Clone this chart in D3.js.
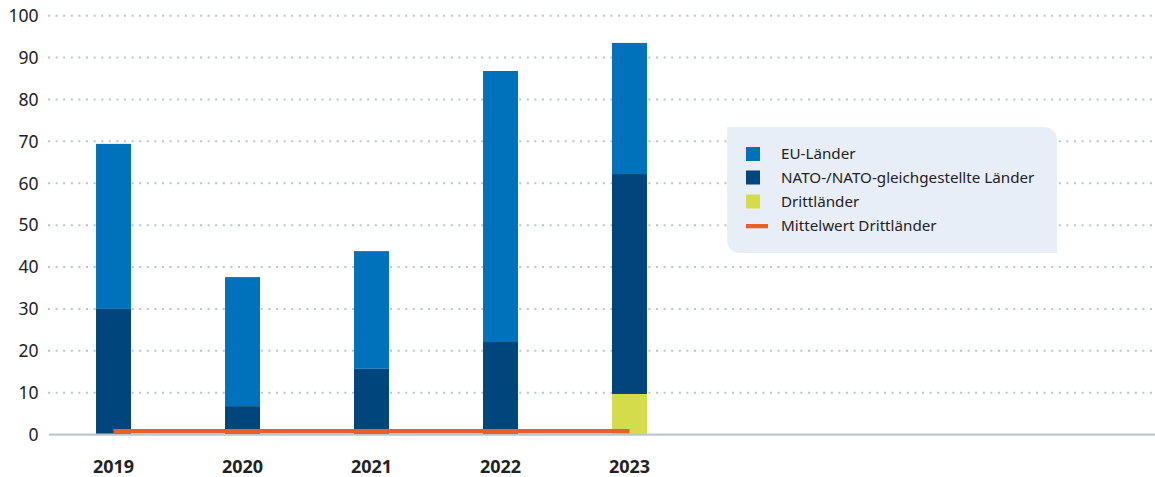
<!DOCTYPE html>
<html><head><meta charset="utf-8">
<script src="https://cdn.jsdelivr.net/npm/d3@7"></script>
<style>
html,body{margin:0;padding:0;background:#fff;}
svg{display:block;font-family:"Noto Sans",sans-serif;}
</style></head>
<body><svg id="c" width="1155" height="477"></svg>
<script>
const years = ["2019","2020","2021","2022","2023"];
const euLaender = [39.4, 30.8, 28.1, 64.7, 31.3];
const natoLaender = [30.0, 6.8, 15.7, 22.1, 52.5];
const drittLaender = [0, 0, 0, 0, 9.7];
const mittelwertDritt = 0.85;
const yTicks = [0,10,20,30,40,50,60,70,80,90,100];
const seriesNames = ["EU-Länder","NATO-/NATO-gleichgestellte Länder","Drittländer","Mittelwert Drittländer"];
const colors = {nato:"#00457c", eu:"#0072bc", dritt:"#d5dc4c", mean:"#e4602f"};

const svg = d3.select("#c");
const x = d3.scaleBand().domain(years).range([49, 694]).paddingInner(0.729).paddingOuter(0.3645);
const y = d3.scaleLinear().domain([0,100]).range([434.6, 15.7]);

// gridlines
svg.append("g").selectAll("line").data(yTicks.filter(d=>d>0)).join("line")
  .attr("x1",48).attr("x2",1155).attr("y1",d=>y(d)).attr("y2",d=>y(d))
  .attr("stroke","#b9c5cb").attr("stroke-width",2).attr("stroke-dasharray","2 5.6").attr("stroke-linecap","butt");

// y labels
svg.append("g").selectAll("text").data(yTicks).join("text")
  .attr("x",38.5).attr("y",d=>y(d)+6.3).attr("text-anchor","end")
  .attr("font-size",17.5).attr("fill","#222").text(d=>d);

// stacked data
const rows = years.map((yr,i)=>({year:yr, dritt:drittLaender[i], nato:natoLaender[i], eu:euLaender[i]}));
const stack = d3.stack().keys(["dritt","nato","eu"])(rows);
svg.append("g").selectAll("g").data(stack).join("g")
  .attr("fill",d=>colors[d.key])
  .selectAll("rect").data(d=>d).join("rect")
  .attr("x",d=>x(d.data.year)).attr("width",x.bandwidth())
  .attr("y",d=>y(d[1])).attr("height",d=>y(d[0])-y(d[1]));

// baseline
svg.append("line").attr("x1",49).attr("x2",1155).attr("y1",y(0)).attr("y2",y(0))
  .attr("stroke","#bdc6cc").attr("stroke-width",2.2);

// mean line
svg.append("line")
  .attr("x1",x(years[0])+x.bandwidth()/2).attr("x2",x(years[years.length-1])+x.bandwidth()/2)
  .attr("y1",y(mittelwertDritt)).attr("y2",y(mittelwertDritt))
  .attr("stroke",colors.mean).attr("stroke-width",4.3);

// x labels
svg.append("g").selectAll("text").data(years).join("text")
  .attr("x",d=>x(d)+x.bandwidth()/2).attr("y",472.5).attr("text-anchor","middle")
  .attr("font-size",18).attr("font-weight","bold").attr("fill","#222").text(d=>d);

// legend
const lx=727, ly=127, lw=330, lh=126, r=14;
svg.append("path").attr("fill","#e8eef8")
  .attr("d",`M${lx},${ly} H${lx+lw-r} Q${lx+lw},${ly} ${lx+lw},${ly+r} V${ly+lh} H${lx+r} Q${lx},${ly+lh} ${lx},${ly+lh-r} Z`);
const legColors=[colors.eu,colors.nato,colors.dritt,colors.mean];
const legY=[154,177.5,201.5,226];
const lg = svg.append("g");
seriesNames.forEach((n,i)=>{
  if(i<3){
    lg.append("rect").attr("x",746).attr("y",legY[i]-7).attr("width",14).attr("height",14).attr("fill",legColors[i]);
  } else {
    lg.append("rect").attr("x",746).attr("y",legY[i]-2).attr("width",22).attr("height",4.3).attr("fill",legColors[i]);
  }
  lg.append("text").attr("x",781).attr("y",legY[i]+5.4).attr("font-size",15.2).attr("fill","#222").text(n);
});
</script></body></html>
